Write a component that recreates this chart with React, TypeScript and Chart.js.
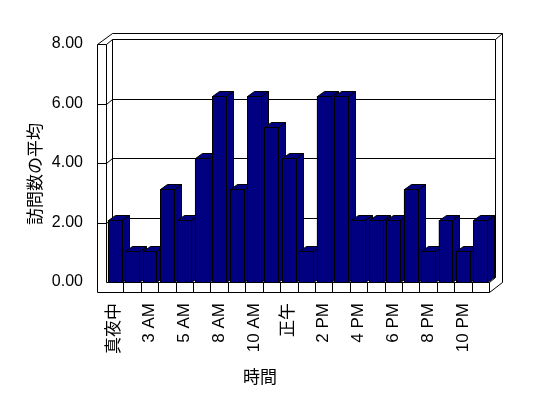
import React, { useEffect, useRef } from "react";
import { Chart, registerables } from "chart.js";

Chart.register(...registerables);

const categories = [
  "真夜中", "1 AM", "3 AM", "4 AM", "5 AM", "7 AM", "8 AM", "9 AM", "10 AM", "11 AM", "正午",
  "1 PM", "2 PM", "3 PM", "4 PM", "5 PM", "6 PM", "7 PM", "8 PM", "9 PM", "10 PM", "11 PM",
];
const averageVisits = [
  2.08, 1.04, 1.04, 3.13, 2.08, 4.17, 6.25, 3.13, 6.25, 5.21, 4.17,
  1.04, 6.25, 6.25, 2.08, 2.08, 2.08, 3.13, 1.04, 2.08, 1.04, 2.08,
];
const yTickValues = [0, 2, 4, 6, 8];
const xTitle = "時間";
const yTitle = "訪問数の平均";

const NAVY = "#000080";
const FONT = '"Liberation Sans", "Noto Sans CJK JP", sans-serif';
const CJK = '"Noto Sans CJK JP", sans-serif';

const WALL_DX = 6;
const WALL_DY = -5;
const BAR_DX = 7;
const BAR_DY = -5;
const LEFT_T = 9;
const FLOOR_T = 10;

const p = (v: number) => Math.round(v) + 0.5;

function line(ctx: CanvasRenderingContext2D, pts: number[][]) {
  ctx.beginPath();
  ctx.moveTo(p(pts[0][0]), p(pts[0][1]));
  for (let i = 1; i < pts.length; i++) ctx.lineTo(p(pts[i][0]), p(pts[i][1]));
  ctx.stroke();
}

const frame3d = {
  id: "frame3d",
  beforeDatasetsDraw(chart: any) {
    const { ctx, chartArea } = chart;
    const { left: L, right: R, top: T, bottom: B } = chartArea;
    const y = chart.scales.y;
    const x = chart.scales.x;
    ctx.save();
    ctx.strokeStyle = "#000";
    ctx.lineWidth = 1;
    yTickValues.forEach((v) => {
      if (v === 0) return;
      const py = y.getPixelForValue(v);
      line(ctx, [[L - LEFT_T, py], [L, py], [L + WALL_DX, py + WALL_DY], [R + WALL_DX, py + WALL_DY]]);
    });
    line(ctx, [[L + WALL_DX, T + WALL_DY], [L + WALL_DX, B + WALL_DY], [R + WALL_DX, B + WALL_DY], [R + WALL_DX, T + WALL_DY]]);
    line(ctx, [[R, B], [R + WALL_DX, B + WALL_DY]]);
    line(ctx, [[L, T], [L, B], [R, B]]);
    line(ctx, [[L - LEFT_T, T], [L - LEFT_T, B + FLOOR_T], [R, B + FLOOR_T], [R, B]]);
    const n = categories.length;
    for (let i = 1; i < n; i++) {
      const bx = (x.getPixelForValue(i - 1) + x.getPixelForValue(i)) / 2;
      line(ctx, [[bx, B], [bx, B + FLOOR_T]]);
    }
    const OX = R + WALL_DX + 7;
    const OY = T + WALL_DY - 6;
    line(ctx, [[L - LEFT_T, T], [L + WALL_DX, OY], [OX, OY], [OX, B + FLOOR_T - 10], [R, B + FLOOR_T]]);
    line(ctx, [[R + WALL_DX, T + WALL_DY], [OX, OY]]);
    ctx.restore();
  },
  afterDatasetsDraw(chart: any) {
    const { ctx } = chart;
    const meta = chart.getDatasetMeta(0);
    ctx.save();
    ctx.strokeStyle = "#000";
    ctx.fillStyle = NAVY;
    ctx.lineWidth = 1;
    meta.data.forEach((bar: any) => {
      const { x, y, base, width } = bar.getProps(["x", "y", "base", "width"], true);
      const l = Math.round(x - width / 2) + 0.5;
      const r = Math.round(x + width / 2) + 0.5;
      const t = Math.round(y) + 0.5;
      const b = Math.round(base) + 0.5;
      const poly = (pts: number[][]) => {
        ctx.beginPath();
        ctx.moveTo(pts[0][0], pts[0][1]);
        for (let i = 1; i < pts.length; i++) ctx.lineTo(pts[i][0], pts[i][1]);
        ctx.closePath();
        ctx.fill();
        ctx.stroke();
      };
      poly([[r, t], [r + BAR_DX, t + BAR_DY], [r + BAR_DX, b + BAR_DY], [r, b]]);
      poly([[l, t], [l + BAR_DX, t + BAR_DY], [r + BAR_DX, t + BAR_DY], [r, t]]);
      poly([[l, t], [r, t], [r, b], [l, b]]);
    });
    ctx.restore();
  },
  afterDraw(chart: any) {
    const { ctx } = chart;
    ctx.save();
    ctx.fillStyle = "#000";
    ctx.font = "17px " + CJK;
    ctx.textAlign = "center";
    ctx.textBaseline = "middle";
    ctx.fillText(xTitle, 260, 377);
    ctx.translate(35, 174);
    ctx.rotate(-Math.PI / 2);
    ctx.fillText(yTitle, 0, 0);
    ctx.restore();
  },
};

export default function App() {
  const ref = useRef<HTMLCanvasElement>(null);
  useEffect(() => {
    document.body.style.margin = "0";
    const chart = new Chart(ref.current!, {
      type: "bar",
      data: {
        labels: categories,
        datasets: [
          {
            data: averageVisits,
            backgroundColor: NAVY,
            borderColor: "#000",
            borderWidth: 1,
            categoryPercentage: 1,
            barPercentage: 0.8,
          },
        ],
      },
      options: {
        animation: false,
        responsive: false,
        devicePixelRatio: 1,
        layout: { padding: { left: 0, top: 44, right: 59, bottom: 0 } },
        plugins: { legend: { display: false }, tooltip: { enabled: false } },
        scales: {
          x: {
            grid: { display: false, drawTicks: false },
            border: { display: false },
            afterFit: (s: any) => {
              s.height = 116;
            },
            ticks: {
              autoSkip: false,
              minRotation: 90,
              maxRotation: 90,
              padding: 21,
              color: "#000",
              font: { family: FONT, size: 17 },
              callback: (_v: any, i: number) => (i % 2 === 0 ? categories[i] : ""),
            },
          },
          y: {
            min: 0,
            max: 8,
            grid: { display: false, drawTicks: false },
            border: { display: false },
            afterFit: (s: any) => {
              s.width = 106;
            },
            afterBuildTicks: (s: any) => {
              s.ticks = yTickValues.map((v) => ({ value: v }));
            },
            ticks: {
              padding: 23,
              color: "#000",
              font: { family: FONT, size: 16 },
              callback: (v: any) => Number(v).toFixed(2),
            },
          },
        },
      },
      plugins: [frame3d],
    });
    return () => chart.destroy();
  }, []);
  return (
    <div style={{ width: 548, height: 398 }}>
      <canvas ref={ref} width={548} height={398} />
    </div>
  );
}
